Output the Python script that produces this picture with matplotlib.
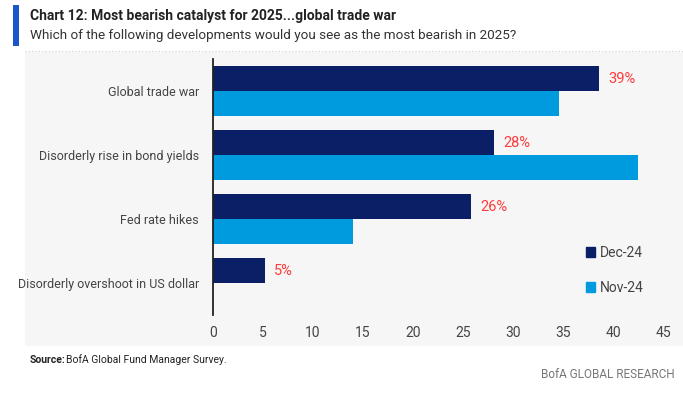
import matplotlib.pyplot as plt
from matplotlib.patches import Rectangle, Patch

# data
categories = ["Global trade war", "Disorderly rise in bond yields",
              "Fed rate hikes", "Disorderly overshoot in US dollar"]
dec_24 = [38.6, 28.1, 25.8, 5.2]
nov_24 = [34.6, 42.5, 14.0, 0.0]
dec_labels = ["39%", "28%", "26%", "5%"]
xticks = [0, 5, 10, 15, 20, 25, 30, 35, 40, 45]

NAVY = "#0b1f66"
LIGHT = "#009bde"
RED = "#ff3b3b"
GREY = "#444444"

plt.rcParams['font.family'] = ['Roboto', 'DejaVu Sans']

fig = plt.figure(figsize=(6.83, 3.93), dpi=100)

# shaded chart panel
fig.patches.append(Rectangle((25 / 683, 1 - 346 / 393), 658 / 683, 294 / 393,
                             transform=fig.transFigure, facecolor="#f6f6f6",
                             edgecolor="none", zorder=-10))
# blue title marker
fig.patches.append(Rectangle((13 / 683, 1 - 46 / 393), 6 / 683, 41 / 393,
                             transform=fig.transFigure, facecolor="#1a56c8",
                             edgecolor="none", zorder=-10))
fig.add_artist(plt.Line2D([25 / 683, 1], [1 - 51 / 393, 1 - 51 / 393],
                          transform=fig.transFigure, color="#cccccc",
                          lw=0.8, ls=(0, (1, 2)), zorder=-5))

ax = fig.add_axes([213 / 683, 1 - 315 / 393, 450 / 683, 256 / 393])
ax.patch.set_alpha(0)

pos = list(range(len(categories)))
h = 0.39
ax.barh([p - h / 2 for p in pos], dec_24, height=h, color=NAVY, label="Dec-24")
ax.barh([p + h / 2 for p in pos], nov_24, height=h, color=LIGHT, label="Nov-24")

for p, v, lab in zip(pos, dec_24, dec_labels):
    ax.text(v + 0.9, p - h / 2, lab, color=RED, fontsize=10.5, va="center", ha="left")

ax.set_xlim(0, 45)
ax.set_ylim(3.5, -0.5)
ax.set_yticks(pos)
ax.set_yticklabels(categories, fontsize=9, color=GREY)
ax.set_xticks(xticks)
ax.set_xticklabels([str(t) for t in xticks], fontsize=10, color=GREY)
ax.tick_params(axis="both", length=0)
ax.tick_params(axis="y", pad=10)
ax.tick_params(axis="x", pad=8)
for s in ["top", "right", "bottom"]:
    ax.spines[s].set_visible(False)
ax.spines["left"].set_color("#222222")
ax.spines["left"].set_linewidth(1.3)

handles = [Patch(color=NAVY, label="Dec-24"), Patch(color=LIGHT, label="Nov-24")]
ax.legend(handles=handles, loc="center left", bbox_to_anchor=(0.8, 0.175),
          frameon=False, fontsize=10, handlelength=0.7, handleheight=0.7,
          handletextpad=0.3, labelspacing=1.5, labelcolor=GREY)

fig.text(30 / 683, 1 - 16 / 393, "Chart 12: Most bearish catalyst for 2025...global trade war",
         fontsize=10, fontweight="bold", color="#222222", va="center")
fig.text(30 / 683, 1 - 36 / 393,
         "Which of the following developments would you see as the most bearish in 2025?",
         fontsize=9.7, color="#333333", va="center")
fig.text(30 / 683, 1 - 360 / 393, "Source:", fontsize=7.5, fontweight="bold",
         color="#222222", va="center")
fig.text(66 / 683, 1 - 360 / 393, "BofA Global Fund Manager Survey.",
         fontsize=7.5, color="#222222", va="center")
fig.text(675 / 683, 1 - 375 / 393, "BofA GLOBAL RESEARCH", fontsize=8.5,
         color="#777777", va="center", ha="right")

fig.savefig("out.png", dpi=100)
